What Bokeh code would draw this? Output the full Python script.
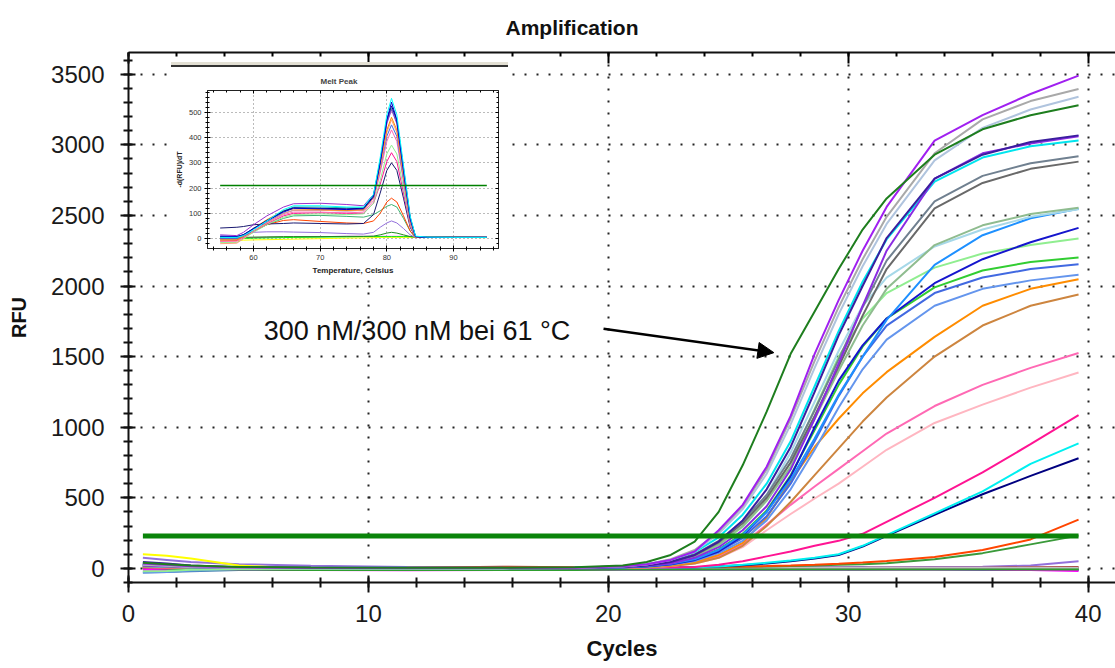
from bokeh.plotting import figure
from bokeh.models import (Range1d, LinearAxis, SingleIntervalTicker, Arrow, NormalHead,
                          Label, Div, ColumnDataSource)
from bokeh.transform import dodge
from bokeh.embed import file_html
from bokeh.resources import INLINE

# ---------------- amplification data (RFU per cycle) ----------------
CYCLES = [1, 2, 3, 5, 8, 12, 16, 19, 21, 22, 23, 24, 25, 26, 27, 28, 29, 30, 31, 32, 34, 36, 38, 40]

dark_green     = [40, 30, 20, 10, 6, 5, 5, 8, 20, 45, 95, 190, 400, 730, 1110, 1520, 1820, 2120, 2400, 2620, 2930, 3110, 3210, 3280]
purple         = [35, 25, 15, 8, 3, 2, 2, 5, 15, 30, 60, 120, 270, 450, 720, 1080, 1520, 1900, 2250, 2560, 3030, 3210, 3360, 3490]
gray           = [30, 22, 12, 6, 3, 2, 2, 5, 15, 30, 65, 130, 260, 440, 700, 1060, 1470, 1850, 2190, 2490, 2940, 3180, 3310, 3395]
light_steel    = [25, 18, 10, 5, 2, 2, 2, 4, 14, 28, 60, 120, 245, 420, 670, 1020, 1420, 1800, 2140, 2440, 2890, 3120, 3250, 3340]
indigo         = [45, 35, 20, 8, 4, 3, 3, 5, 10, 20, 45, 95, 190, 340, 560, 860, 1250, 1650, 2000, 2340, 2760, 2930, 3020, 3067]
blue_violet    = [20, 15, 10, 5, 3, 2, 2, 4, 10, 18, 35, 75, 150, 270, 440, 700, 1060, 1450, 1860, 2250, 2760, 2940, 3010, 3060]
cyan           = [30, 22, 12, 6, 3, 2, 2, 5, 15, 30, 60, 115, 220, 380, 600, 900, 1290, 1680, 2030, 2330, 2740, 2910, 2990, 3031]
slate_gray     = [25, 18, 10, 5, 3, 2, 2, 4, 12, 25, 50, 100, 195, 335, 520, 780, 1120, 1480, 1850, 2180, 2600, 2780, 2870, 2919]
dim_gray       = [20, 15, 10, 5, 3, 2, 2, 4, 12, 24, 46, 92, 185, 320, 500, 750, 1080, 1430, 1790, 2120, 2550, 2730, 2830, 2881]
dark_sea_green = [15, 12, 8, 4, 2, 2, 2, 4, 10, 20, 42, 85, 170, 300, 480, 720, 1060, 1400, 1720, 1980, 2290, 2430, 2510, 2555]
powder_blue    = [20, 15, 10, 5, 3, 2, 2, 4, 12, 22, 45, 90, 180, 320, 520, 820, 1180, 1540, 1860, 2060, 2280, 2400, 2490, 2543]
dodger_blue    = [15, 10, 6, 3, 2, 2, 2, 3, 8, 16, 32, 65, 130, 240, 400, 630, 920, 1230, 1500, 1760, 2150, 2360, 2480, 2548]
medium_blue    = [25, 18, 10, 5, 3, 2, 2, 3, 8, 15, 30, 60, 120, 230, 400, 650, 1000, 1330, 1580, 1770, 2020, 2190, 2310, 2412]
pale_green     = [-20, -18, -10, -4, -2, 0, 0, 3, 9, 18, 38, 80, 165, 295, 480, 750, 1130, 1500, 1770, 1950, 2130, 2230, 2290, 2336]
lime_green     = [20, 15, 8, 4, 2, 2, 2, 3, 8, 15, 32, 65, 135, 245, 410, 660, 980, 1300, 1570, 1770, 1990, 2110, 2170, 2202]
royal_blue     = [30, 22, 12, 5, 3, 2, 2, 3, 7, 14, 30, 58, 120, 215, 370, 600, 900, 1220, 1500, 1720, 1950, 2060, 2120, 2155]
cornflower     = [-30, -25, -15, -6, -3, 0, 0, 2, 6, 12, 26, 52, 108, 195, 340, 560, 840, 1140, 1410, 1620, 1860, 1980, 2040, 2079]
dark_orange    = [10, 8, 5, 3, 2, 2, 2, 3, 5, 10, 20, 45, 95, 180, 360, 620, 860, 1060, 1240, 1390, 1640, 1860, 1980, 2048]
peru           = [15, 10, 6, 3, 2, 2, 2, 3, 5, 8, 16, 35, 75, 160, 300, 470, 660, 850, 1040, 1210, 1500, 1720, 1860, 1940]
hot_pink       = [10, 8, 5, 3, 2, 2, 2, 3, 5, 8, 18, 40, 85, 170, 310, 450, 580, 705, 830, 955, 1150, 1300, 1420, 1525]
light_pink     = [10, 8, 5, 3, 2, 2, 2, 3, 5, 8, 16, 35, 75, 150, 270, 385, 495, 600, 720, 840, 1030, 1160, 1280, 1387]
deep_pink      = [5, 3, 2, 0, 0, 0, 0, 1, 3, 4, 6, 10, 25, 50, 85, 120, 160, 195, 245, 330, 500, 680, 880, 1085]
aqua           = [5, 3, 2, 0, 0, 0, 0, 1, 2, 3, 4, 8, 14, 25, 40, 55, 75, 100, 160, 235, 390, 545, 740, 885]
navy           = [5, 3, 2, 0, 0, 0, 0, 1, 2, 3, 4, 8, 13, 22, 35, 50, 70, 95, 155, 230, 380, 525, 655, 780]
orange_red     = [10, 8, 5, 3, 3, 3, 4, 5, 6, 7, 8, 9, 11, 13, 16, 20, 26, 33, 42, 52, 80, 130, 205, 345]
sea_green      = [5, 4, 3, 2, 2, 2, 3, 4, 5, 6, 7, 8, 9, 11, 13, 16, 20, 25, 30, 37, 65, 108, 170, 232]

medium_purple  = [75, 60, 45, 30, 18, 10, 8, 6, 5, 5, 5, 5, 5, 5, 5, 6, 6, 7, 8, 8, 10, 12, 20, 50]
yellow         = [100, 90, 70, 20, -5, -8, -5, 0, 2, 2, 2, 2, 3, 3, 3, 3, 3, 3, 3, 3, 2, -5, -5, -5]
blue_flat      = [30, 25, 15, 5, 5, 5, 5, 5, 5, 5, 5, 5, 5, 5, 5, 5, 5, 5, 5, 0, -5, -10, -10, -10]
steel_blue     = [-30, -25, -20, -12, -10, -8, -8, -8, -10, -10, -10, -10, -10, -10, -10, -10, -10, -10, -10, -8, -8, -8, -8, -8]
brown_flat     = [10, 8, 5, 0, 0, 5, 12, 8, 5, 5, 5, 5, 5, 5, 5, 5, 5, 5, 5, 5, 5, 5, 8, 10]
magenta_flat   = [-10, -10, -12, -12, -12, -14, -12, -10, -8, -8, -8, -8, -8, -8, -8, -8, -8, -8, -8, -8, -8, -8, -12, -18]
silver_flat    = [15, 10, 5, 5, 5, 5, 5, 5, 5, 5, 5, 5, 5, 5, 5, 5, 5, 5, 5, 5, 5, 5, 5, 5]
green_flat     = [5, 0, -10, -10, -12, -12, -12, -12, -8, -8, -8, -8, -8, -8, -8, -8, -8, -8, -8, -8, -8, -8, -8, -8]

THRESHOLD = 230
THRESHOLD_CYCLES = [1, 40]

FLAT_SERIES = [
    ("#9370DB", medium_purple), ("#FFFF00", yellow), ("#0000FF", blue_flat),
    ("#4682B4", steel_blue), ("#A52A2A", brown_flat), ("#FF00FF", magenta_flat),
    ("#C0C0C0", silver_flat), ("#2E9E2E", green_flat),
]
AMP_SERIES = [
    ("#3A9A3A", sea_green), ("#FF4500", orange_red), ("#000080", navy), ("#00F0F0", aqua),
    ("#FF1493", deep_pink), ("#FFB6C1", light_pink), ("#FF69B4", hot_pink), ("#CD853F", peru),
    ("#FF8C00", dark_orange), ("#6495ED", cornflower), ("#4169E1", royal_blue),
    ("#32CD32", lime_green), ("#90EE90", pale_green), ("#1515CD", medium_blue),
    ("#1E90FF", dodger_blue), ("#A6D8E8", powder_blue), ("#8FBC8F", dark_sea_green),
    ("#696969", dim_gray), ("#708090", slate_gray), ("#00E5EE", cyan),
    ("#8A2BE2", blue_violet), ("#3B1E9E", indigo), ("#B0C4DE", light_steel),
    ("#A9A9A9", gray), ("#A020F0", purple), ("#1E7E1E", dark_green),
]

ANNOTATION = "300 nM/300 nM bei 61 °C"
X_TITLE = "Cycles"
Y_TITLE = "RFU"

# ---------------- melt peak data (-d(RFU)/dT per temperature) ----------------
MELT_T = [55, 57.5, 58.5, 60, 62, 64.5, 66, 70, 74, 76.5, 78, 79, 80, 80.7, 81.5, 82.5, 83.5, 84.3, 86, 90, 95]

m_blue    = [10, 8, 15, 40, 70, 105, 120, 118, 115, 118, 165, 300, 470, 540, 470, 270, 80, 8, 5, 5, 5]
m_cyan    = [5, 5, 12, 35, 70, 115, 130, 130, 125, 125, 175, 320, 490, 555, 490, 290, 90, 10, 6, 5, 5]
m_navy    = [8, 8, 16, 40, 72, 108, 122, 120, 118, 120, 170, 305, 470, 525, 470, 280, 85, 8, 5, 5, 5]
m_purple  = [15, 12, 25, 55, 90, 125, 138, 140, 135, 130, 175, 300, 455, 510, 455, 265, 75, 8, 5, 5, 5]
m_teal    = [5, 5, 15, 38, 70, 110, 125, 125, 122, 122, 170, 310, 460, 515, 460, 270, 80, 8, 5, 5, 5]
m_orange  = [-5, -5, 10, 40, 75, 110, 118, 115, 112, 115, 165, 290, 430, 480, 430, 250, 70, 6, 5, 5, 5]
m_salmon  = [-20, -18, 0, 30, 62, 100, 112, 112, 110, 112, 160, 280, 420, 470, 420, 245, 68, 6, 5, 5, 5]
m_royal   = [0, 0, 10, 30, 65, 100, 112, 112, 110, 112, 160, 275, 405, 450, 405, 235, 65, 6, 5, 5, 5]
m_pink    = [-10, -10, 5, 30, 62, 95, 105, 105, 102, 105, 150, 260, 385, 430, 385, 225, 60, 5, 5, 5, 5]
m_lgreen  = [-15, -15, 0, 25, 55, 85, 95, 98, 95, 98, 140, 230, 335, 370, 335, 200, 55, 5, 5, 5, 5]
m_hpink   = [-10, -8, 5, 28, 58, 90, 100, 102, 100, 100, 140, 215, 305, 340, 305, 180, 50, 5, 5, 5, 5]
m_dnavy   = [42, 45, 48, 55, 58, 60, 62, 60, 58, 60, 95, 180, 270, 300, 270, 160, 45, 5, 5, 5, 5]
m_ored    = [0, 0, 10, 30, 55, 72, 75, 68, 62, 60, 70, 100, 145, 160, 145, 90, 30, 5, 5, 5, 5]
m_green   = [0, 0, 10, 30, 55, 80, 90, 92, 88, 85, 95, 110, 128, 135, 125, 80, 30, 5, 5, 5, 5]
m_lav     = [-5, -5, 10, 25, 27, 27, 26, 24, 20, 18, 25, 45, 62, 70, 62, 40, 15, 5, 5, 5, 5]
m_dgreen  = [5, 5, 5, 6, 7, 8, 8, 8, 9, 9, 10, 15, 22, 25, 22, 15, 8, 6, 6, 6, 6]
m_yellow  = [-8, -8, -6, -5, -4, -3, -2, 0, 2, 3, 4, 5, 5, 5, 5, 5, 5, 5, 5, 5, 4]
m_magenta = [2, 2, 3, 4, 5, 6, 7, 8, 9, 9, 9, 9, 9, 9, 9, 9, 9, 8, 8, 7, 6]
m_lime    = [0, 0, 1, 2, 3, 4, 5, 6, 7, 8, 8, 8, 8, 8, 8, 8, 8, 8, 8, 7, 5]

MELT_THRESHOLD = 210
MELT_THRESHOLD_T = [55, 95]

MELT_SERIES = [
    ("#FFFF00", m_yellow), ("#FF00FF", m_magenta), ("#00FF00", m_lime), ("#228B22", m_dgreen),
    ("#9370DB", m_lav), ("#3CB371", m_green), ("#FF4500", m_ored), ("#191970", m_dnavy),
    ("#FF1493", m_hpink), ("#90EE90", m_lgreen), ("#FF69B4", m_pink), ("#4169E1", m_royal),
    ("#FFA07A", m_salmon), ("#FF8C00", m_orange), ("#20B2AA", m_teal), ("#9932CC", m_purple),
    ("#000080", m_navy), ("#0000CD", m_blue), ("#00FFFF", m_cyan),
]

FONT = "Liberation Sans"

# ---------------- main figure ----------------
p = figure(width=1115, height=668, x_range=Range1d(0, 41.14), y_range=Range1d(-100, 3654),
           output_backend="svg", toolbar_location=None,
           min_border_left=128, min_border_right=0, min_border_top=52, min_border_bottom=86,
           outline_line_color=None, background_fill_color="white", border_fill_color="white")
p.margin = 0

xt = SingleIntervalTicker(interval=10, num_minor_ticks=5)
yt = SingleIntervalTicker(interval=500, num_minor_ticks=5)

p.xaxis.ticker = xt
p.yaxis.ticker = yt
for ax in (p.xaxis[0], p.yaxis[0]):
    ax.axis_line_width = 2
    ax.axis_line_color = "#111111"
    ax.major_tick_line_width = 2
    ax.minor_tick_line_width = 2
    ax.major_tick_line_color = "#111111"
    ax.minor_tick_line_color = "#111111"
    ax.major_label_text_font = FONT
    ax.major_label_text_font_size = "24px"
    ax.major_label_text_color = "#1a1a1a"
    ax.axis_label_text_font = FONT
    ax.axis_label_text_font_style = "bold"
    ax.axis_label_text_color = "#111111"

p.xaxis.major_tick_in = 7
p.xaxis.major_tick_out = 10
p.xaxis.minor_tick_in = 5
p.xaxis.minor_tick_out = 5
p.xaxis.major_label_standoff = 12
p.xaxis.axis_label = X_TITLE
p.xaxis.axis_label_text_font_size = "22px"
p.xaxis.axis_label_standoff = 11

p.yaxis.major_tick_in = 7
p.yaxis.major_tick_out = 8
p.yaxis.minor_tick_in = 4
p.yaxis.minor_tick_out = 5
p.yaxis.major_label_standoff = 16
p.yaxis.axis_label = Y_TITLE
p.yaxis.axis_label_text_font_size = "20px"
p.yaxis.axis_label_standoff = 18

# frame edge on top: ticks only, its labels are not drawn
top_axis = LinearAxis(ticker=xt, axis_line_width=2, axis_line_color="#111111",
                      major_tick_in=11, major_tick_out=0, minor_tick_in=4, minor_tick_out=0,
                      major_tick_line_width=2, minor_tick_line_width=2,
                      major_label_text_font_size="1px", major_label_text_color=None,
                      major_label_standoff=0)
p.add_layout(top_axis, "above")

p.xgrid.ticker = xt
p.ygrid.ticker = yt
for g in (p.xgrid[0], p.ygrid[0]):
    g.grid_line_color = "#222222"
    g.grid_line_width = 2
    g.grid_line_dash = "2 10"

p.title.text = "Amplification"
p.title.text_font = FONT
p.title.text_font_size = "21px"
p.title.text_font_style = "bold"
p.title.text_color = "#111111"
p.title.align = "left"
p.title.offset = 377
p.title.vertical_align = "top"
p.title.standoff = 24

for color, vals in FLAT_SERIES:
    src = ColumnDataSource(dict(cycle=CYCLES, rfu=vals))
    p.line(x=dodge("cycle", -0.4), y="rfu", source=src, line_color=color, line_width=2)

for color, vals in AMP_SERIES:
    src = ColumnDataSource(dict(cycle=CYCLES, rfu=vals))
    p.line(x=dodge("cycle", -0.4), y="rfu", source=src, line_color=color, line_width=2)

thr_src = ColumnDataSource(dict(cycle=THRESHOLD_CYCLES, rfu=[THRESHOLD] * len(THRESHOLD_CYCLES)))
p.line(x=dodge("cycle", -0.4), y="rfu", source=thr_src, line_color="#0A840A", line_width=5)

p.add_layout(Label(x=5.64, y=1683, text=ANNOTATION, text_font=FONT, text_font_size="27px",
                   text_baseline="middle", text_color="#111111"))
p.add_layout(Arrow(end=NormalHead(size=16, fill_color="black", line_color="black"),
                   x_start=19.8, y_start=1698, x_end=26.9, y_end=1528,
                   line_width=2.5, line_color="black"))

# ---------------- inset: melt peak ----------------
q = figure(width=338, height=208, x_range=Range1d(53.1, 96.75), y_range=Range1d(-39, 586),
           output_backend="svg", toolbar_location=None,
           min_border_left=37, min_border_right=10, min_border_top=19, min_border_bottom=29,
           outline_line_color="#222222", outline_line_width=1,
           background_fill_color="white", border_fill_color="white")
q.margin = 0
q.styles = {"position": "absolute", "left": "170px", "top": "69px", "z-index": "5"}

qxt = SingleIntervalTicker(interval=10, num_minor_ticks=5)
qyt = SingleIntervalTicker(interval=100, num_minor_ticks=5)
q.xaxis.ticker = qxt
q.yaxis.ticker = qyt
for ax in (q.xaxis[0], q.yaxis[0]):
    ax.axis_line_color = "#222222"
    ax.major_tick_in = 3
    ax.major_tick_out = 3
    ax.minor_tick_in = 2
    ax.minor_tick_out = 2
    ax.major_label_text_font = FONT
    ax.major_label_text_font_size = "7.5px"
    ax.major_label_text_color = "#333333"
    ax.major_label_standoff = 3
    ax.axis_label_text_font = FONT
    ax.axis_label_text_font_style = "bold"
    ax.axis_label_text_color = "#222222"
    ax.axis_label_standoff = 3
q.xaxis.axis_label = "Temperature, Celsius"
q.xaxis.axis_label_text_font_size = "8px"
q.yaxis.axis_label = "-d(RFU)/dT"
q.yaxis.axis_label_text_font_size = "7px"
q.add_layout(LinearAxis(ticker=qxt, major_tick_in=3, major_tick_out=0, minor_tick_in=2,
                        minor_tick_out=0, major_label_text_font_size="1px",
                        major_label_text_color=None,
                        major_label_standoff=0, axis_line_color="#222222"), "above")
q.add_layout(LinearAxis(ticker=qyt, major_tick_in=3, major_tick_out=0, minor_tick_in=2,
                        minor_tick_out=0, major_label_text_font_size="1px",
                        major_label_text_color=None,
                        major_label_standoff=0, axis_line_color="#222222"), "right")
q.xgrid.ticker = qxt
q.ygrid.ticker = qyt
for g in (q.xgrid[0], q.ygrid[0]):
    g.grid_line_color = "#777777"
    g.grid_line_width = 1
    g.grid_line_dash = "1 3"

q.title.text = "Melt Peak"
q.title.text_font = FONT
q.title.text_font_size = "8px"
q.title.text_font_style = "bold"
q.title.align = "left"
q.title.offset = 113

for color, vals in MELT_SERIES:
    src = ColumnDataSource(dict(t=MELT_T, d=vals))
    q.line(x="t", y="d", source=src, line_color=color, line_width=1)

mthr = ColumnDataSource(dict(t=MELT_THRESHOLD_T, d=[MELT_THRESHOLD] * len(MELT_THRESHOLD_T)))
q.line(x="t", y="d", source=mthr, line_color="#008000", line_width=1.5)

strip = Div(text="", width=337, height=5, margin=0,
            styles={"position": "absolute", "left": "171px", "top": "62px", "z-index": "6",
                    "background-color": "#e3e0d4", "border-bottom": "2px solid #333333"})

open("out.html", "w").write(file_html([p, q, strip], INLINE))
